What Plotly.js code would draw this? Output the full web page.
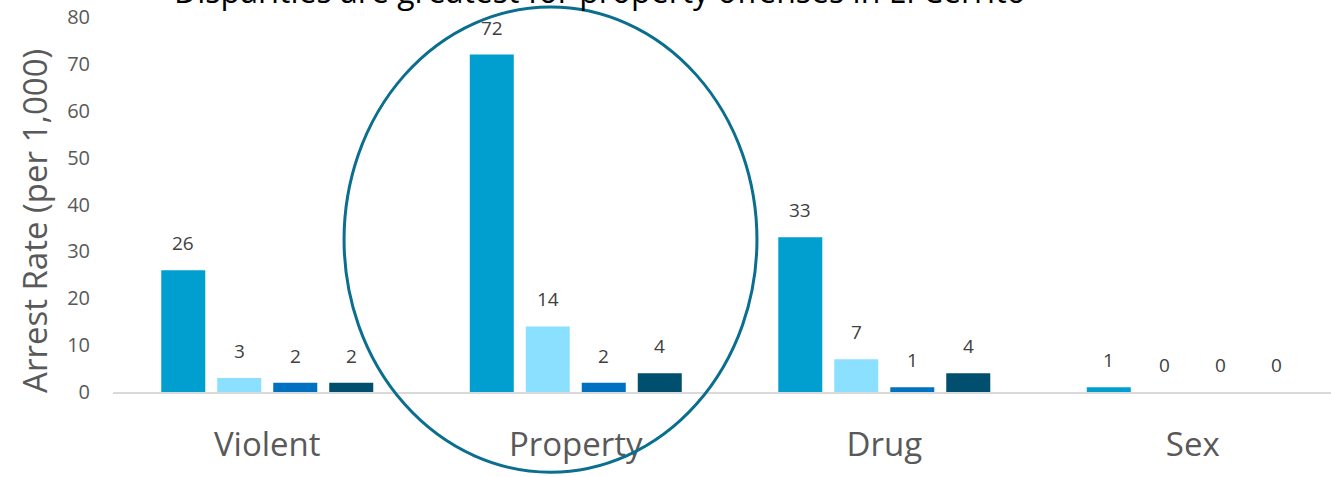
<!DOCTYPE html>
<html>
<head>
<meta charset="utf-8">
<script src="https://cdn.plot.ly/plotly-3.0.1.min.js"></script>
<style>html,body{margin:0;padding:0;background:#fff;}#chart{width:1331px;height:477px;}</style>
</head>
<body>
<div id="chart"></div>
<script>
const categories = ["Violent", "Property", "Drug", "Sex"];
const seriesA = [26, 72, 33, 1];
const seriesB = [3, 14, 7, 0];
const seriesC = [2, 2, 1, 0];
const seriesD = [2, 4, 4, 0];
const seriesNames = ["Series 1", "Series 2", "Series 3", "Series 4"];
const yTicks = [0, 10, 20, 30, 40, 50, 60, 70, 80];
const chartTitle = "Disparities are greatest for property offenses in El Cerrito";
const yTitle = "Arrest Rate (per 1,000)";

const allSeries = [seriesA, seriesB, seriesC, seriesD];
const colors = ["#009FD0", "#8BE0FF", "#0070C0", "#004F6E"];
const FONT = "Open Sans, Noto Sans, sans-serif";

const traces = allSeries.map((vals, i) => ({
  type: "bar",
  name: seriesNames[i],
  x: categories,
  y: vals,
  marker: {color: colors[i]},
  hoverinfo: "y"
}));

const barPitch = 56;
const annotations = [];
allSeries.forEach((vals, i) => {
  vals.forEach((v, j) => {
    annotations.push({
      x: categories[j], y: v, xref: "x", yref: "y",
      text: String(v), showarrow: false,
      xshift: (i - 1.5) * barPitch, yanchor: "bottom", yshift: 12,
      font: {family: FONT, size: 19, color: "#404040"}
    });
  });
});
annotations.push({
  xref: "paper", yref: "paper", x: -0.0649, y: 0.456,
  text: yTitle, textangle: -90, showarrow: false,
  xanchor: "center", yanchor: "middle",
  font: {family: FONT, size: 33, color: "#595959"}
});
// chart title (placed as annotation so it can sit partly above the page edge, as in the reference)
annotations.push({
  xref: "paper", yref: "paper", x: 0.3998, y: 1,
  text: chartTitle, showarrow: false,
  xanchor: "center", yanchor: "bottom", yshift: 3,
  font: {family: FONT, size: 32, color: "#000"}
});

const layout = {
  width: 1331, height: 477,
  margin: {l: 113, r: 0, t: 17, b: 85},
  paper_bgcolor: "#fff", plot_bgcolor: "#fff",
  showlegend: false,
  barmode: "group",
  bargap: 0.274,
  bargroupgap: 0.214,
  xaxis: {
    type: "category",
    range: [-0.5, 3.448],
    showgrid: false, zeroline: false,
    showline: true, linecolor: "#D9D9D9", linewidth: 2,
    ticks: "outside", ticklen: 22, tickcolor: "rgba(0,0,0,0)",
    tickfont: {family: FONT, size: 33, color: "#595959"}
  },
  yaxis: {
    range: [0, 80],
    tickvals: yTicks,
    showgrid: false, zeroline: false, showline: false,
    ticks: "outside", ticklen: 18, tickcolor: "rgba(0,0,0,0)",
    tickfont: {family: FONT, size: 20, color: "#595959"}
  },
  shapes: [{
    type: "circle", xref: "paper", yref: "paper",
    x0: 0.1897, x1: 0.5287, y0: -0.214, y1: 1.0267,
    line: {color: "#0A6E8F", width: 3},
    fillcolor: "rgba(0,0,0,0)"
  }],
  annotations: annotations
};

Plotly.newPlot("chart", traces, layout, {displayModeBar: false, staticPlot: true});
</script>
</body>
</html>
